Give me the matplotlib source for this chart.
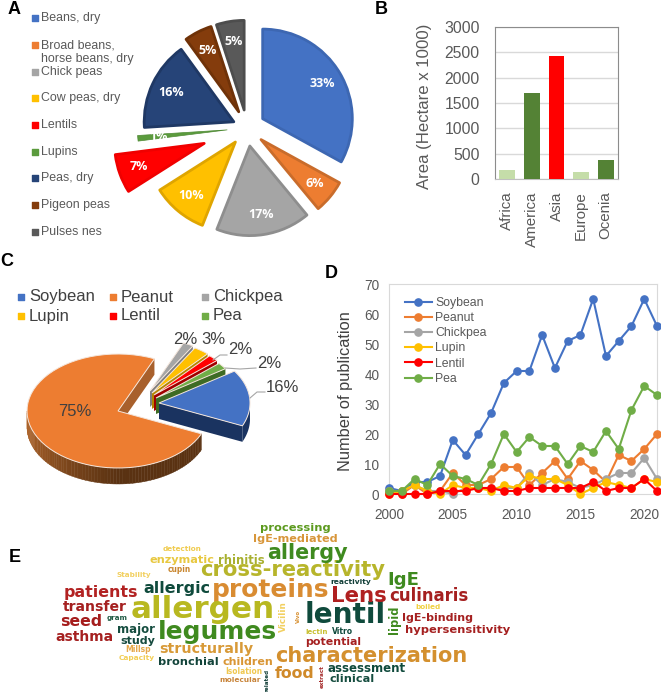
import numpy as np
import matplotlib
matplotlib.use("Agg")
import matplotlib.pyplot as plt
from matplotlib.colors import to_rgb
from matplotlib.patches import Polygon

W, H = 661, 692
plt.rcParams["font.family"] = ["Liberation Sans", "DejaVu Sans"]

GREY = "#595959"

# panel A
crop_names = ["Beans, dry", "Broad beans,\nhorse beans, dry", "Chick peas", "Cow peas, dry",
              "Lentils", "Lupins", "Peas, dry", "Pigeon peas", "Pulses nes"]
crop_share = [33, 6, 17, 10, 7, 1, 16, 5, 5]
crop_colors = ["#4472C4", "#ED7D31", "#A5A5A5", "#FFC000", "#FF0000",
               "#5B9B3D", "#264478", "#843C0C", "#595959"]
crop_edges = ["#3D67B2", "#C96C2B", "#8E8E8E", "#DFA500", "#F00000",
              "#4F8A35", "#1F3864", "#6F3208", "#4D4D4D"]
crop_explode = [0.2, 0.2, 0.2, 0.2, 0.5, 0.22, 0.16, 0.2, 0.2]
crop_text_y = [18, 52, 72, 98, 125, 152, 178, 205, 232]
crop_marker_y = [18, 45, 72, 98, 125, 152, 178, 205, 232]

# panel B
regions = ["Africa", "America", "Asia", "Europe", "Ocenia"]
region_area = [170, 1700, 2430, 130, 370]
region_colors = ["#C5DDA9", "#548235", "#FF0000", "#C5DDA9", "#548235"]

# panel C
pub_names = ["Soybean", "Peanut", "Chickpea", "Lupin", "Lentil", "Pea"]
pub_share = [16, 75, 2, 3, 2, 2]
pub_colors = ["#4472C4", "#ED7D31", "#A5A5A5", "#FFC000", "#FF0000", "#70AD47"]
pub_walls = ["#1A3360", "#A8602C", "#7F7F7F", "#B38600", "#A00000", "#3E6B24"]
pub_shift = [(41, -8), (0, 0), (32, -20), (34, -18), (36, -16), (38, -13)]
pub_scale = [1, 1, 0.92, 0.92, 0.92, 0.92]

# panel D
years = list(range(2000, 2022))
soybean = [2, 1, 4, 4, 6, 18, 13, 20, 27, 37, 41, 41, 53, 42, 51, 53, 65, 46, 51, 56, 65, 56]
peanut = [1, 0, 3, 0, 1, 7, 3, 3, 5, 9, 9, 3, 7, 11, 5, 11, 8, 4, 13, 11, 15, 20]
chickpea = [1, 1, 3, 1, 1, 0, 2, 2, 2, 2, 2, 7, 3, 5, 4, 2, 3, 5, 7, 7, 12, 5]
lupin = [0, 1, 3, 1, 0, 3, 2, 2, 1, 3, 2, 6, 5, 5, 3, 0, 2, 4, 3, 2, 5, 4]
lentil = [0, 0, 0, 0, 1, 1, 1, 2, 2, 1, 1, 2, 2, 2, 2, 2, 4, 1, 2, 2, 5, 1]
pea = [1, 1, 5, 3, 10, 6, 5, 3, 10, 20, 14, 19, 16, 16, 10, 16, 14, 21, 15, 28, 36, 33]

# panel E
words = ["detection", "enzymatic", "rhinitis", "cupin", "Stability", "cross-reactivity", "patients",
         "allergic", "proteins", "transfer", "allergen", "seed", "gram", "major", "legumes", "asthma",
         "study", "Millsp", "structurally", "Capacity", "bronchial", "children", "Isolation", "molecular",
         "food", "assessment", "clinical", "characterization", "potential", "lectin", "Vitro", "lentil",
         "Lens", "culinaris", "IgE", "reactivity", "boiled", "IgE-binding", "hypersensitivity",
         "processing", "IgE-mediated", "allergy"]
word_spans = [(163, 202, 549), (150, 215, 560), (218, 264, 560), (168, 191, 569), (117, 151, 575),
              (200, 385, 570), (64, 138, 592), (143, 210, 588), (212, 329, 590), (63, 127, 607),
              (131, 275, 610), (60, 102, 622), (107, 128, 618), (117, 155, 629), (158, 276, 632),
              (55, 113, 637), (120, 155, 641), (126, 151, 650), (160, 253, 649), (119, 155, 658),
              (158, 218, 662), (222, 273, 662), (225, 262, 672), (220, 261, 680), (275, 315, 674),
              (328, 406, 668), (330, 374, 679), (275, 468, 656), (305, 361, 642), (306, 328, 632),
              (332, 353, 632), (305, 385, 615), (331, 387, 596), (389, 468, 596), (387, 419, 580),
              (331, 371, 582), (415, 440, 607), (402, 473, 618), (406, 510, 630), (260, 330, 528),
              (253, 337, 539), (267, 347, 553)]
word_colors = ["#F0CC50", "#E8C840", "#A8B030", "#C8852D", "#F2D060", "#B7B52B", "#B22222", "#0F4A3C",
               "#D98C32", "#A52020", "#B8B820", "#A51D1D", "#1F5A44", "#154D3F", "#3F8A1F", "#A52020",
               "#164A3E", "#E6A84A", "#D89A38", "#F2CE55", "#12443A", "#D99635", "#F0C850", "#C8843A",
               "#D08A2A", "#0F4A3C", "#154D3F", "#D4902E", "#A52020", "#C8C030", "#0F4A3C", "#0F4A3C",
               "#B02020", "#A52020", "#3F8A1F", "#123F38", "#F0D040", "#A52020", "#A52020", "#5C9A1E",
               "#D8963A", "#3F8A1F"]
side_words = ["related", "extract", "Vicilin", "Vivo", "lipid"]
side_spans = [(267, 669, 692), (322, 665, 688), (283, 602, 632), (298, 610, 623), (394, 606, 634)]
side_colors = ["#123F38", "#A52A2A", "#F2D060", "#D89030", "#3F8A1F"]


def px_axes(fig, left, top, right, bottom):
    return fig.add_axes([left / W, 1 - bottom / H, (right - left) / W, (bottom - top) / H])


def plot_crops(fig, overlay):
    cx, cy, r = 247, 128, 91
    ax = px_axes(fig, cx - 1.5 * r, cy - 1.5 * r, cx + 1.5 * r, cy + 1.5 * r)
    wedges, _, pcts = ax.pie(crop_share, colors=crop_colors, explode=crop_explode, startangle=90,
                             counterclock=False, autopct="%d%%", pctdistance=0.76,
                             textprops={"color": "white", "fontsize": 9, "fontweight": "bold",
                                        "family": "Open Sans"})
    for wedge, edge, share in zip(wedges, crop_edges, crop_share):
        wedge.set_edgecolor(edge)
        wedge.set_linewidth(0.5 if share == 1 else 2.0)
        wedge.set_joinstyle("round")
        wedge.set_radius(0.985)
    ax.set_xlim(-1.5, 1.5)
    ax.set_ylim(-1.5, 1.5)

    for name, y, my, color in zip(crop_names, crop_text_y, crop_marker_y, crop_colors):
        overlay.scatter([35], [my], marker="s", s=22, color=color)
        overlay.text(41, y, name, fontsize=8.9, color=GREY, va="center", linespacing=1.15)


def plot_area(fig):
    ax = px_axes(fig, 495, 27, 618, 179)
    ax.bar(regions, region_area, width=0.65, color=region_colors, zorder=3)
    ax.set_xlim(-0.5, 4.5)
    ax.set_ylim(0, 3000)
    ax.set_yticks(range(0, 3001, 500))
    ax.grid(axis="y", color="#D9D9D9", lw=1)
    ax.set_axisbelow(True)
    ax.tick_params(length=0, labelcolor=GREY)
    ax.tick_params(axis="y", labelsize=11.3, pad=11)
    ax.tick_params(axis="x", labelsize=10.9, labelrotation=90, pad=9)
    for side in ax.spines.values():
        side.set_color("#8C8C8C")
    ax.spines["bottom"].set_color("#BFBFBF")
    ax.set_ylabel("Area (Hectare x 1000)", fontsize=12.1, color=GREY)
    ax.yaxis.set_label_coords(-0.51, 0.48)


def ellipse_pts(cx, cy, a, b, scale=1.0):
    rx, ry = 91 * scale, 57 * scale
    t = np.radians(np.linspace(a, b, 60))
    return np.column_stack([cx + rx * np.cos(t), cy - ry * np.sin(t)])


def plot_shares(overlay):
    cx, cy, depth = 118, 411, 16
    sweep = np.array(pub_share) * 3.6
    ends = 34 - np.cumsum(sweep)
    starts = ends + sweep
    down = np.array([0, depth])
    # back to front so the peanut body sits under the exploded slices
    for i in [1, 2, 3, 4, 5, 0]:
        x0, y0 = cx + pub_shift[i][0], cy + pub_shift[i][1]
        arc = ellipse_pts(x0, y0, starts[i], ends[i], pub_scale[i])
        apex = np.array([x0, y0])
        cut = arc[-1]
        overlay.add_patch(Polygon([apex, cut, cut + down, apex + down], color=pub_walls[i], lw=0))
        if i == 1:
            steps = np.linspace(-180, starts[i], 80)
            dark, light = np.array(to_rgb("#5A3212")), np.array(to_rgb("#B5682C"))
            for n in range(len(steps) - 1):
                seg = ellipse_pts(x0, y0, steps[n], steps[n + 1])
                color = light + (dark - light) * min(1, n / 45)
                overlay.add_patch(Polygon(np.vstack([seg, (seg + down)[::-1]]), color=color, lw=0.3))
        if i == 0:
            seg = ellipse_pts(x0, y0, ends[i], ends[i] + 22)
            overlay.add_patch(Polygon(np.vstack([seg, (seg + down)[::-1]]), color=pub_walls[i], lw=0))
        overlay.add_patch(Polygon(np.vstack([apex, arc]), facecolor=pub_colors[i], edgecolor="#F4E6DC", lw=0.7))

    label_xy = [(282, 387), (75, 412), (185, 339), (213, 339), (240, 349), (269, 363)]
    for val, (x, y) in zip(pub_share, label_xy):
        overlay.text(x, y, f"{val}%", fontsize=12, color="#404040", ha="center", va="center")
    leaders = [((250, 398), (257, 392), (265, 392)), ((213, 360), (220, 355), (227, 355)),
               ((225, 368), (240, 369), (256, 368))]
    for line in leaders:
        overlay.plot(*zip(*line), color="#A6A6A6", lw=0.8)

    xs = [21, 113, 205]
    txt = [29, 121, 213]
    for i, (name, color) in enumerate(zip(pub_names, pub_colors)):
        y = 297 if i < 3 else 316
        overlay.scatter([xs[i % 3]], [y], marker="s", s=22, color=color)
        overlay.text(txt[i % 3], y, name, fontsize=12, color="#404040", va="center")


def plot_years(fig):
    ax = px_axes(fig, 389, 284, 657, 494)
    series = [soybean, peanut, chickpea, lupin, lentil, pea]
    for name, vals, color in zip(pub_names, series, pub_colors):
        ax.plot(years, vals, marker="o", ms=5.2, lw=1.5, color=color, label=name, clip_on=False, zorder=3)
    ax.set_xlim(2000, 2021)
    ax.set_ylim(0, 70)
    ax.set_xticks(range(2000, 2021, 5))
    ax.set_yticks(range(0, 71, 10))
    ax.tick_params(length=0, labelsize=9.8, labelcolor=GREY)
    ax.tick_params(axis="x", pad=10)
    ax.tick_params(axis="y", pad=7)
    for side in ax.spines.values():
        side.set_color("#D9D9D9")
    ax.set_ylabel("Number of publication", fontsize=11.8, color="#404040")
    ax.yaxis.set_label_coords(-0.135, 0.49)
    ax.legend(loc="upper left", bbox_to_anchor=(0.05, 0.95), frameon=False, fontsize=8.8, labelcolor=GREY,
              labelspacing=0.26, handlelength=2.2, handletextpad=0.3, borderpad=0.2, borderaxespad=0)


def fit_word(fig, overlay, word, x, y, length, color, rotation=0):
    t = overlay.text(x, y, word, color=color, fontsize=10, fontweight="bold", family="DejaVu Sans",
                     ha="center", va="center", rotation=rotation)
    box = t.get_window_extent(fig.canvas.get_renderer())
    size = box.height if rotation else box.width
    t.set_fontsize(10 * length / size)


def plot_words(fig, overlay):
    for word, (x0, x1, y), color in zip(words, word_spans, word_colors):
        fit_word(fig, overlay, word, (x0 + x1) / 2, y, x1 - x0, color)
    for word, (x, y0, y1), color in zip(side_words, side_spans, side_colors):
        fit_word(fig, overlay, word, x, (y0 + y1) / 2, y1 - y0, color, rotation=90)


def main():
    fig = plt.figure(figsize=(W / 100, H / 100), dpi=100)
    overlay = fig.add_axes([0, 0, 1, 1], zorder=5)
    overlay.set_xlim(0, W)
    overlay.set_ylim(H, 0)
    overlay.axis("off")

    plot_crops(fig, overlay)
    plot_area(fig)
    plot_shares(overlay)
    plot_years(fig)
    plot_words(fig, overlay)

    for letter, x, y in [("A", 14, 9), ("B", 381, 10), ("C", 7, 261), ("D", 331, 273), ("E", 15, 558)]:
        overlay.text(x, y, letter, fontsize=13, fontweight="bold", color="black", ha="center", va="center")

    fig.savefig("out.png", dpi=100)
    plt.close(fig)


if __name__ == "__main__":
    main()
